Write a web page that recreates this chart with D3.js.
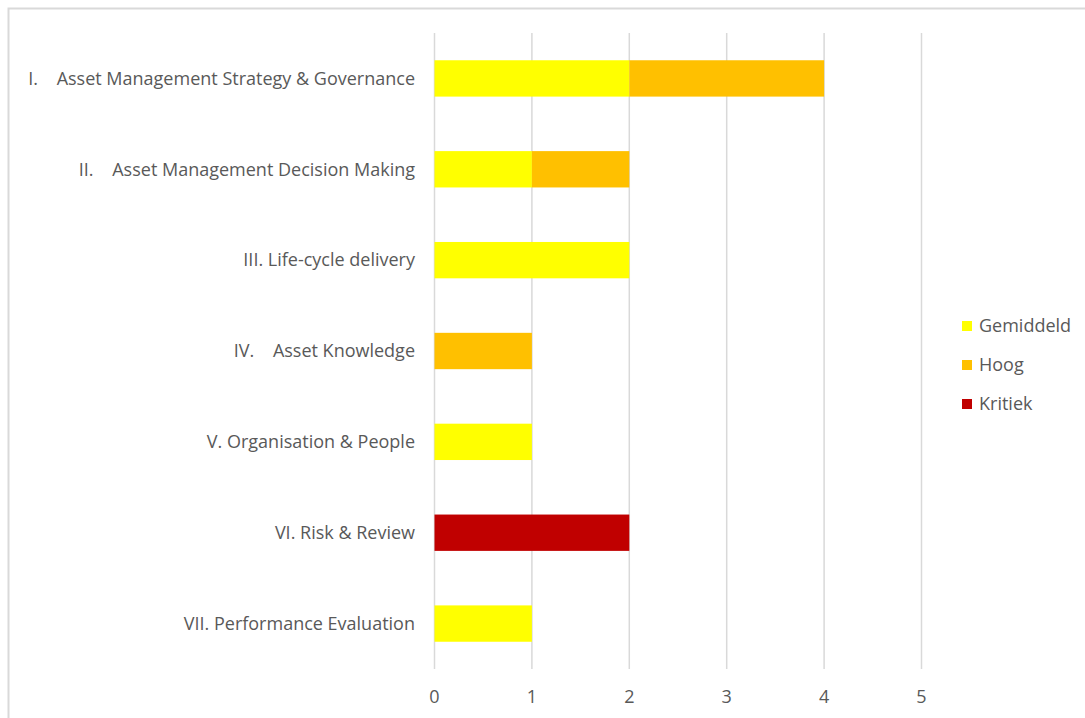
<!DOCTYPE html>
<html>
<head>
<meta charset="utf-8">
<script src="https://cdn.jsdelivr.net/npm/d3@7"></script>
<style>
  html, body { margin: 0; padding: 0; background: #fff; }
  svg { display: block; }
  text { font-family: "Open Sans", "Noto Sans", sans-serif; fill: #595959; white-space: pre; }
</style>
</head>
<body>
<svg id="chart" width="1085" height="718"></svg>
<script>
// Findings per ISO 55000 subject group, stacked by severity
const categories = [
  "I.    Asset Management Strategy & Governance",
  "II.    Asset Management Decision Making",
  "III. Life-cycle delivery",
  "IV.    Asset Knowledge",
  "V. Organisation & People",
  "VI. Risk & Review",
  "VII. Performance Evaluation"
];
const seriesNames = ["Gemiddeld", "Hoog", "Kritiek"];
const gemiddeld = [2, 1, 2, 0, 1, 0, 1];
const hoog      = [2, 1, 0, 1, 0, 0, 0];
const kritiek   = [0, 0, 0, 0, 0, 2, 0];
const xTicks = [0, 1, 2, 3, 4, 5];

const colors = ["#FFFF00", "#FFC000", "#C00000"];

const rows = categories.map((c, i) => ({
  cat: c, Gemiddeld: gemiddeld[i], Hoog: hoog[i], Kritiek: kritiek[i]
}));
const stacked = d3.stack().keys(seriesNames)(rows);

const svg = d3.select("#chart");

// chart frame
svg.append("rect")
  .attr("x", 8.5).attr("y", 8.5)
  .attr("width", 1090).attr("height", 720)
  .attr("fill", "none").attr("stroke", "#d9d9d9").attr("stroke-width", 2);

const plot = { left: 434.5, right: 921.5, top: 33, bottom: 669 };

const x = d3.scaleLinear().domain([0, 5]).range([plot.left, plot.right]);
const y = d3.scaleBand().domain(categories).range([plot.top, plot.bottom]).paddingInner(0.6).paddingOuter(0.3);

// vertical gridlines
svg.append("g").selectAll("line").data(xTicks).join("line")
  .attr("x1", d => x(d)).attr("x2", d => x(d))
  .attr("y1", plot.top).attr("y2", plot.bottom)
  .attr("stroke", "#d9d9d9").attr("stroke-width", 1.5);

// bars
svg.append("g").selectAll("g").data(stacked).join("g")
  .attr("fill", (d, i) => colors[i])
  .selectAll("rect").data(d => d.filter(s => s[1] > s[0])).join("rect")
  .attr("x", d => x(d[0]))
  .attr("width", d => x(d[1]) - x(d[0]))
  .attr("y", d => y(d.data.cat))
  .attr("height", y.bandwidth());

// category labels
svg.append("g").selectAll("text").data(categories).join("text")
  .attr("x", 415)
  .attr("y", d => y(d) + y.bandwidth() / 2)
  .attr("dy", "0.35em")
  .attr("text-anchor", "end")
  .attr("font-size", 18)
  .attr("xml:space", "preserve")
  .text(d => d);

// x tick labels
svg.append("g").selectAll("text").data(xTicks).join("text")
  .attr("x", d => x(d))
  .attr("y", 697)
  .attr("dy", "0.35em")
  .attr("text-anchor", "middle")
  .attr("font-size", 18)
  .text(d => d);

// legend
const legend = svg.append("g").selectAll("g").data(seriesNames).join("g")
  .attr("transform", (d, i) => `translate(962, ${326 + i * 39})`);
legend.append("rect")
  .attr("x", 0).attr("y", -5).attr("width", 10).attr("height", 10)
  .attr("fill", (d, i) => colors[i]);
legend.append("text")
  .attr("x", 17).attr("y", 0).attr("dy", "0.35em")
  .attr("font-size", 18)
  .text(d => d);
</script>
</body>
</html>
